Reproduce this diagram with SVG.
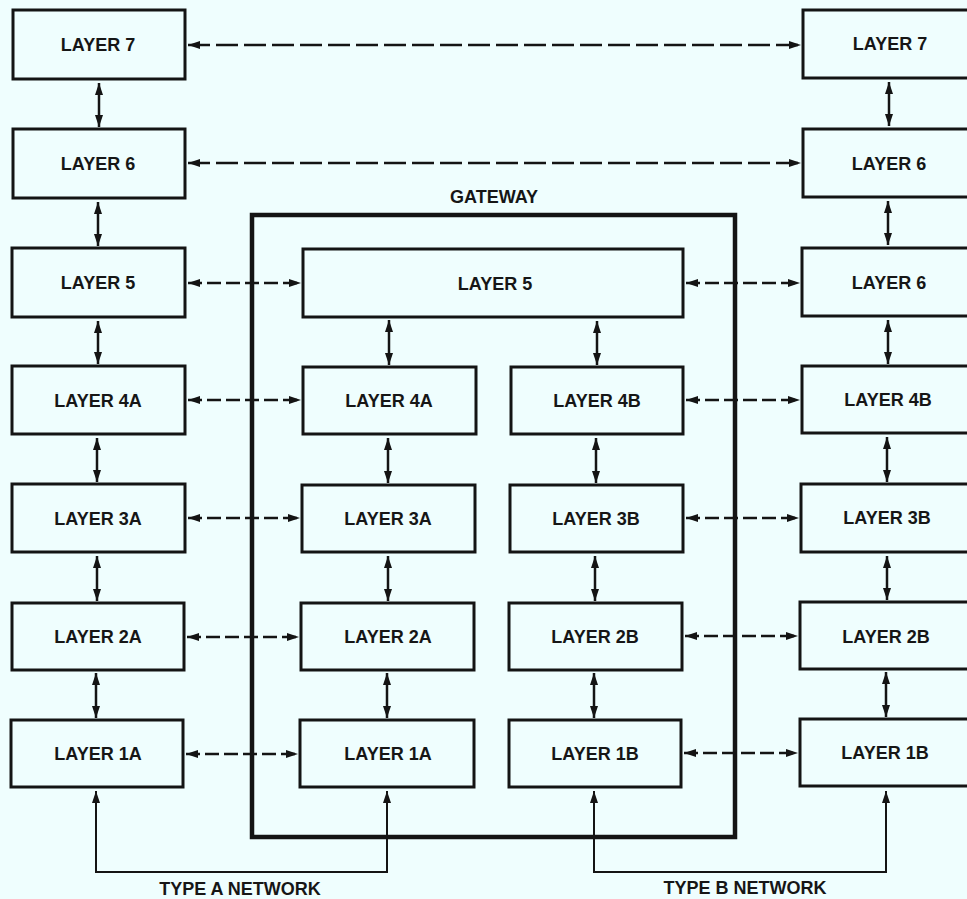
<svg xmlns="http://www.w3.org/2000/svg" width="967" height="899" viewBox="0 0 967 899">
  <style>
    .box { fill: none; stroke: #141414; stroke-width: 3; }
    .gw { fill: none; stroke: #141414; stroke-width: 4.5; }
    .lbl { font-family: "Liberation Sans", Arial, sans-serif; font-weight: bold; font-size: 18px; fill: #161616; text-anchor: middle; }
    .v { stroke: #141414; stroke-width: 2.5; fill: none; marker-start: url(#head); marker-end: url(#head); }
    .h { stroke: #141414; stroke-width: 2.5; fill: none; stroke-dasharray: 14 5; marker-start: url(#head); marker-end: url(#head); }
    .hl { stroke-dasharray: 22 6; }
    .net { stroke: #141414; stroke-width: 2; fill: none; marker-start: url(#head); marker-end: url(#head); }
  </style>
  <defs>
    <marker id="head" viewBox="0 0 12 8" refX="12" refY="4" markerWidth="12" markerHeight="8" markerUnits="userSpaceOnUse" orient="auto-start-reverse">
      <path d="M0,0 L12,4 L0,8 z" fill="#141414" stroke="none"/>
    </marker>
  </defs>

  <rect width="967" height="899" fill="#EFFEFE"/>

  <!-- end system A (left column) -->
  <g id="a-l7"><rect class="box" x="13" y="10" width="172" height="69"/><text class="lbl" x="98" y="51">LAYER 7</text></g>
  <g id="a-l6"><rect class="box" x="13" y="129" width="172" height="69"/><text class="lbl" x="98" y="170">LAYER 6</text></g>
  <g id="a-l5"><rect class="box" x="12" y="248" width="173" height="69"/><text class="lbl" x="98" y="289">LAYER 5</text></g>
  <g id="a-l4a"><rect class="box" x="12" y="366" width="173" height="68"/><text class="lbl" x="98" y="407">LAYER 4A</text></g>
  <g id="a-l3a"><rect class="box" x="12" y="484" width="173" height="68"/><text class="lbl" x="98" y="525">LAYER 3A</text></g>
  <g id="a-l2a"><rect class="box" x="12" y="603" width="172" height="67"/><text class="lbl" x="98" y="643">LAYER 2A</text></g>
  <g id="a-l1a"><rect class="box" x="11" y="720" width="172" height="67"/><text class="lbl" x="98" y="760">LAYER 1A</text></g>

  <!-- gateway -->
  <g id="gateway">
    <rect class="gw" x="252" y="215" width="483" height="622"/>
    <text class="lbl" x="494" y="203">GATEWAY</text>
  </g>
  <g id="g-l5"><rect class="box" x="303" y="249" width="380" height="68"/><text class="lbl" x="495" y="290">LAYER 5</text></g>
  <g id="g-l4a"><rect class="box" x="303" y="367" width="173" height="67"/><text class="lbl" x="389" y="407">LAYER 4A</text></g>
  <g id="g-l3a"><rect class="box" x="302" y="485" width="173" height="67"/><text class="lbl" x="388" y="525">LAYER 3A</text></g>
  <g id="g-l2a"><rect class="box" x="301" y="603" width="173" height="67"/><text class="lbl" x="388" y="643">LAYER 2A</text></g>
  <g id="g-l1a"><rect class="box" x="300" y="720" width="174" height="67"/><text class="lbl" x="388" y="760">LAYER 1A</text></g>
  <g id="g-l4b"><rect class="box" x="511" y="367" width="172" height="67"/><text class="lbl" x="597" y="407">LAYER 4B</text></g>
  <g id="g-l3b"><rect class="box" x="510" y="485" width="173" height="67"/><text class="lbl" x="596" y="525">LAYER 3B</text></g>
  <g id="g-l2b"><rect class="box" x="509" y="603" width="173" height="67"/><text class="lbl" x="595" y="643">LAYER 2B</text></g>
  <g id="g-l1b"><rect class="box" x="509" y="720" width="172" height="67"/><text class="lbl" x="595" y="760">LAYER 1B</text></g>

  <!-- end system B (right column) -->
  <g id="b-l7"><rect class="box" x="803" y="10" width="175" height="68"/><text class="lbl" x="890" y="50">LAYER 7</text></g>
  <g id="b-l6"><rect class="box" x="803" y="129" width="175" height="68"/><text class="lbl" x="889" y="170">LAYER 6</text></g>
  <g id="b-l5"><rect class="box" x="802" y="248" width="176" height="68"/><text class="lbl" x="889" y="289">LAYER 6</text></g>
  <g id="b-l4b"><rect class="box" x="802" y="366" width="176" height="67"/><text class="lbl" x="888" y="406">LAYER 4B</text></g>
  <g id="b-l3b"><rect class="box" x="801" y="484" width="177" height="68"/><text class="lbl" x="887" y="524">LAYER 3B</text></g>
  <g id="b-l2b"><rect class="box" x="800" y="602" width="178" height="67"/><text class="lbl" x="886" y="643">LAYER 2B</text></g>
  <g id="b-l1b"><rect class="box" x="800" y="719" width="178" height="67"/><text class="lbl" x="885" y="759">LAYER 1B</text></g>

  <!-- connectors -->
  <g id="connectors">
    <!-- peer protocols -->
    <line class="h hl" x1="188" y1="45" x2="801" y2="45"/>
    <line class="h hl" x1="188" y1="163" x2="801" y2="163"/>
    <line class="h" x1="188" y1="283" x2="301" y2="283"/>
    <line class="h" x1="686" y1="283" x2="800" y2="283"/>
    <line class="h" x1="188" y1="400" x2="301" y2="400"/>
    <line class="h" x1="686" y1="400" x2="800" y2="400"/>
    <line class="h" x1="188" y1="518" x2="300" y2="518"/>
    <line class="h" x1="686" y1="518" x2="799" y2="518"/>
    <line class="h" x1="187" y1="637" x2="299" y2="637"/>
    <line class="h" x1="685" y1="636" x2="798" y2="636"/>
    <line class="h" x1="186" y1="754" x2="298" y2="754"/>
    <line class="h" x1="684" y1="753" x2="798" y2="753"/>

    <!-- layer interfaces, left column -->
    <line class="v" x1="99" y1="83" x2="99" y2="127"/>
    <line class="v" x1="98" y1="202" x2="98" y2="246"/>
    <line class="v" x1="98" y1="321" x2="98" y2="364"/>
    <line class="v" x1="97" y1="438" x2="97" y2="482"/>
    <line class="v" x1="97" y1="556" x2="97" y2="601"/>
    <line class="v" x1="96" y1="673" x2="96" y2="718"/>

    <!-- layer interfaces, gateway -->
    <line class="v" x1="389" y1="320" x2="389" y2="365"/>
    <line class="v" x1="388" y1="438" x2="388" y2="483"/>
    <line class="v" x1="388" y1="556" x2="388" y2="601"/>
    <line class="v" x1="387" y1="673" x2="387" y2="718"/>
    <line class="v" x1="597" y1="321" x2="597" y2="365"/>
    <line class="v" x1="596" y1="438" x2="596" y2="483"/>
    <line class="v" x1="595" y1="556" x2="595" y2="601"/>
    <line class="v" x1="594" y1="673" x2="594" y2="718"/>

    <!-- layer interfaces, right column -->
    <line class="v" x1="889" y1="82" x2="889" y2="126"/>
    <line class="v" x1="888" y1="201" x2="888" y2="245"/>
    <line class="v" x1="888" y1="320" x2="888" y2="364"/>
    <line class="v" x1="887" y1="437" x2="887" y2="482"/>
    <line class="v" x1="887" y1="556" x2="887" y2="600"/>
    <line class="v" x1="886" y1="672" x2="886" y2="717"/>

    <!-- physical networks -->
    <path class="net" d="M96,791 V872 H387 V791"/>
    <path class="net" d="M594,791 V872 H886 V791"/>
  </g>

  <text class="lbl" x="240" y="895">TYPE A NETWORK</text>
  <text class="lbl" x="745" y="894">TYPE B NETWORK</text>
</svg>
